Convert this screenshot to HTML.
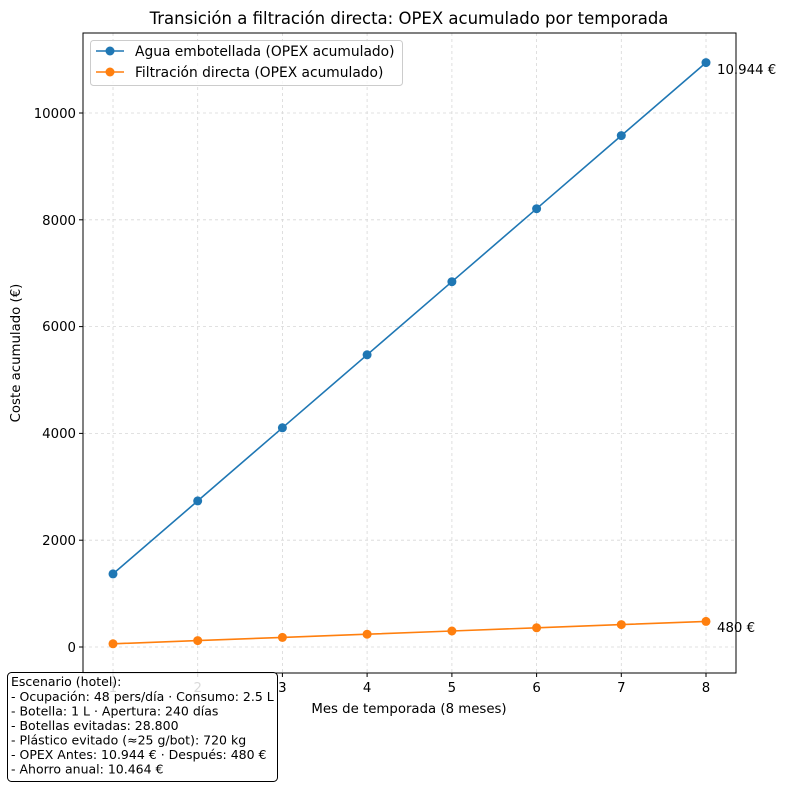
<!DOCTYPE html>
<html><head><meta charset="utf-8"><style>body{margin:0;background:#fff}svg{display:block;font-family:"DejaVu Sans","Liberation Sans",sans-serif}</style></head><body>
<svg width="788" height="789" viewBox="0 0 788 789" xmlns="http://www.w3.org/2000/svg">
<rect width="788" height="789" fill="#fff"/>
<text x="409" y="24" font-size="16.5" text-anchor="middle">Transición a filtración directa: OPEX acumulado por temporada</text>
<g stroke="#b0b0b0" stroke-width="0.8" stroke-dasharray="3,3" opacity="0.5">
<line x1="113" y1="33" x2="113" y2="673"/><line x1="197.7" y1="33" x2="197.7" y2="673"/><line x1="282.4" y1="33" x2="282.4" y2="673"/><line x1="367.1" y1="33" x2="367.1" y2="673"/><line x1="451.9" y1="33" x2="451.9" y2="673"/><line x1="536.6" y1="33" x2="536.6" y2="673"/><line x1="621.3" y1="33" x2="621.3" y2="673"/><line x1="706" y1="33" x2="706" y2="673"/>
<line x1="83" y1="647" x2="736" y2="647"/><line x1="83" y1="540.2" x2="736" y2="540.2"/><line x1="83" y1="433.4" x2="736" y2="433.4"/><line x1="83" y1="326.6" x2="736" y2="326.6"/><line x1="83" y1="219.8" x2="736" y2="219.8"/><line x1="83" y1="113" x2="736" y2="113"/>
</g>
<rect x="83" y="33" width="653" height="640" fill="none" stroke="#000" stroke-width="1"/>
<g stroke="#000"><line x1="79" y1="647" x2="83" y2="647"/><line x1="79" y1="540.2" x2="83" y2="540.2"/><line x1="79" y1="433.4" x2="83" y2="433.4"/><line x1="79" y1="326.6" x2="83" y2="326.6"/><line x1="79" y1="219.8" x2="83" y2="219.8"/><line x1="79" y1="113" x2="83" y2="113"/>
<line x1="113" y1="673" x2="113" y2="677"/><line x1="197.7" y1="673" x2="197.7" y2="677"/><line x1="282.4" y1="673" x2="282.4" y2="677"/><line x1="367.1" y1="673" x2="367.1" y2="677"/><line x1="451.9" y1="673" x2="451.9" y2="677"/><line x1="536.6" y1="673" x2="536.6" y2="677"/><line x1="621.3" y1="673" x2="621.3" y2="677"/><line x1="706" y1="673" x2="706" y2="677"/></g>
<g font-size="13.3" text-anchor="end"><text x="76" y="652">0</text><text x="76" y="545">2000</text><text x="76" y="438">4000</text><text x="76" y="331">6000</text><text x="76" y="225">8000</text><text x="76" y="118">10000</text></g>
<g font-size="13.3" text-anchor="middle"><text x="113" y="692">1</text><text x="197.7" y="692">2</text><text x="282.4" y="692">3</text><text x="367.1" y="692">4</text><text x="451.9" y="692">5</text><text x="536.6" y="692">6</text><text x="621.3" y="692">7</text><text x="706" y="692">8</text></g>
<text x="409" y="713" font-size="13.3" text-anchor="middle">Mes de temporada (8 meses)</text>
<text transform="translate(20,353) rotate(-90)" font-size="13.3" text-anchor="middle">Coste acumulado (€)</text>
<polyline fill="none" stroke="#1f77b4" stroke-width="1.6" points="113,573.9 197.7,500.9 282.4,427.8 367.1,354.8 451.9,281.7 536.6,208.7 621.3,135.6 706,62.6"/>
<g fill="#1f77b4"><circle cx="113" cy="573.9" r="4.5"/><circle cx="197.7" cy="500.9" r="4.5"/><circle cx="282.4" cy="427.8" r="4.5"/><circle cx="367.1" cy="354.8" r="4.5"/><circle cx="451.9" cy="281.7" r="4.5"/><circle cx="536.6" cy="208.7" r="4.5"/><circle cx="621.3" cy="135.6" r="4.5"/><circle cx="706" cy="62.6" r="4.5"/></g>
<polyline fill="none" stroke="#ff7f0e" stroke-width="1.6" points="113,643.8 197.7,640.6 282.4,637.4 367.1,634.2 451.9,631 536.6,627.8 621.3,624.6 706,621.4"/>
<g fill="#ff7f0e"><circle cx="113" cy="643.8" r="4.5"/><circle cx="197.7" cy="640.6" r="4.5"/><circle cx="282.4" cy="637.4" r="4.5"/><circle cx="367.1" cy="634.2" r="4.5"/><circle cx="451.9" cy="631" r="4.5"/><circle cx="536.6" cy="627.8" r="4.5"/><circle cx="621.3" cy="624.6" r="4.5"/><circle cx="706" cy="621.4" r="4.5"/></g>
<text x="717" y="74" font-size="13.3">10.944 €</text>
<text x="717" y="632" font-size="13.3">480 €</text>
<rect x="90.5" y="40.5" width="312" height="45" rx="3" fill="#fff" fill-opacity="0.8" stroke="#ccc"/>
<line x1="96" y1="51" x2="124" y2="51" stroke="#1f77b4" stroke-width="1.6"/><circle cx="110" cy="51" r="4.5" fill="#1f77b4"/>
<text x="135" y="56" font-size="13.8">Agua embotellada (OPEX acumulado)</text>
<line x1="96" y1="72" x2="124" y2="72" stroke="#ff7f0e" stroke-width="1.6"/><circle cx="110" cy="72" r="4.5" fill="#ff7f0e"/>
<text x="135" y="77" font-size="13.8">Filtración directa (OPEX acumulado)</text>
<rect x="7.5" y="672.5" width="270" height="109" rx="4" fill="#fff" fill-opacity="0.85" stroke="#000"/>
<g font-size="12.5"><text x="11" y="686">Escenario (hotel):</text><text x="11" y="701">- Ocupación: 48 pers/día · Consumo: 2.5 L</text><text x="11" y="715.5">- Botella: 1 L · Apertura: 240 días</text><text x="11" y="730">- Botellas evitadas: 28.800</text><text x="11" y="744.5">- Plástico evitado (≈25 g/bot): 720 kg</text><text x="11" y="759">- OPEX Antes: 10.944 € · Después: 480 €</text><text x="11" y="773.5">- Ahorro anual: 10.464 €</text></g>
</svg>
</body></html>
